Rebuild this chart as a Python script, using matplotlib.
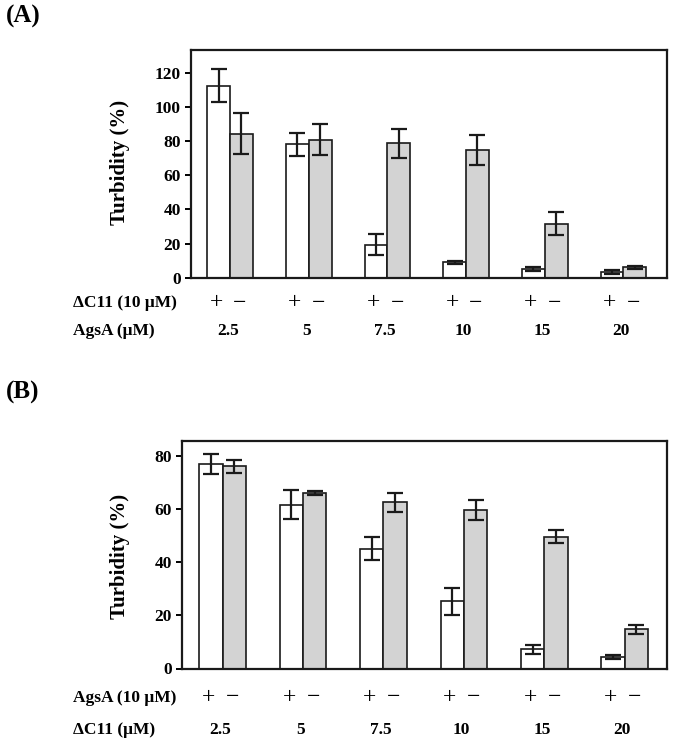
import matplotlib
matplotlib.use("Agg")
import matplotlib.pyplot as plt
import matplotlib.transforms as mtransforms
import numpy as np

plt.rcParams['font.family'] = ['Liberation Serif', 'DejaVu Serif']

# panel A: AgsA concentration series, with / without dC11 (10 uM)
conc_a = ["2.5", "5", "7.5", "10", "15", "20"]
with_a = [112.5, 78.0, 19.3, 9.0, 5.1, 3.3]
with_a_err = [9.8, 6.5, 6.0, 0.7, 1.3, 1.3]
without_a = [84.2, 80.8, 78.6, 74.8, 31.6, 6.0]
without_a_err = [12.0, 9.0, 8.5, 9.0, 6.8, 1.0]

# panel B: dC11 concentration series, with / without AgsA (10 uM)
conc_b = ["2.5", "5", "7.5", "10", "15", "20"]
with_b = [77.1, 61.7, 45.1, 25.3, 7.2, 4.2]
with_b_err = [3.8, 5.4, 4.4, 5.0, 1.6, 0.8]
without_b = [76.1, 66.1, 62.6, 59.7, 49.7, 14.8]
without_b_err = [2.5, 0.8, 3.5, 3.7, 2.6, 1.7]

W, H = 685, 750
fig = plt.figure(figsize=(W / 100, H / 100), dpi=100)

GRAY = "#d3d3d3"
EDGE = "#1a1a1a"
BW = 0.29


def panel(rect, cats, v1, e1, v2, e2, ymax, yticks, xlim,
          row1, row2, row_y, ylab_y, tag, tag_y):
    l, t, r, b = rect
    ax = fig.add_axes([l / W, 1 - b / H, (r - l) / W, (b - t) / H])
    x = np.arange(len(cats))
    ax.bar(x - BW / 2, v1, BW, color="white", edgecolor=EDGE, linewidth=1.2, zorder=2)
    ax.bar(x + BW / 2, v2, BW, color=GRAY, edgecolor=EDGE, linewidth=1.2, zorder=2)
    ek = dict(fmt="none", ecolor=EDGE, elinewidth=1.6, capsize=6, capthick=1.6, zorder=3)
    ax.errorbar(x - BW / 2, v1, yerr=e1, **ek)
    ax.errorbar(x + BW / 2, v2, yerr=e2, **ek)
    ax.set_xlim(*xlim)
    ax.set_ylim(0, ymax)
    ax.set_yticks(yticks)
    ax.set_xticks([])
    ax.tick_params(axis="y", direction="out", length=4, width=1.4, pad=3, labelsize=12.5)
    for lbl in ax.get_yticklabels():
        lbl.set_fontweight("bold")
    for s in ax.spines.values():
        s.set_linewidth(1.6)
        s.set_color(EDGE)

    tr = mtransforms.blended_transform_factory(ax.transData, fig.transFigure)
    y1 = 1 - row_y[0] / H
    y2 = 1 - row_y[1] / H
    for i, c in enumerate(cats):
        ax.text(i - BW / 2 - 0.03, y1, "+", transform=tr, ha="center", va="center",
                fontsize=17)
        ax.text(i + BW / 2 - 0.02, y1, "\u2212", transform=tr, ha="center", va="center",
                fontsize=17)
        ax.text(i - 0.03, y2, c, transform=tr, ha="center", va="center",
                fontsize=12.5, fontweight="bold")
    fig.text(73 / W, y1, row1, ha="left", va="center", fontsize=12.5, fontweight="bold")
    fig.text(73 / W, y2, row2, ha="left", va="center", fontsize=12.5, fontweight="bold")
    fig.text(120 / W, 1 - ylab_y / H, "Turbidity (%)", rotation=90, ha="center",
             va="center", fontsize=15, fontweight="bold")
    fig.text(6 / W, 1 - tag_y / H, tag, ha="left", va="center", fontsize=18,
             fontweight="bold")
    return ax


panel((190.7, 50, 666.7, 277.7), conc_a, with_a, with_a_err, without_a, without_a_err,
      133.3, [0, 20, 40, 60, 80, 100, 120], (-0.5, 5.55),
      "\u0394C11 (10 \u03bcM)", "AgsA (\u03bcM)", (303, 331), 162, "(A)", 16)

panel((181.7, 441, 666.5, 668.5), conc_b, with_b, with_b_err, without_b, without_b_err,
      85.7, [0, 20, 40, 60, 80], (-0.51, 5.52),
      "AgsA (10 \u03bcM)", "\u0394C11 (\u03bcM)", (698, 730), 556, "(B)", 392)

fig.savefig("out.png", dpi=100)
